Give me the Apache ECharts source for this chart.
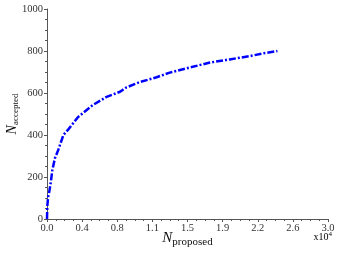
<!DOCTYPE html>
<html><head><meta charset="utf-8">
<script src="https://cdn.jsdelivr.net/npm/echarts@6/dist/echarts.min.js"></script>
<style>html,body{margin:0;padding:0;background:#fff}#c{width:341px;height:256px}</style>
</head><body><div id="c"></div>
<script>
const xProposed = [0, 30, 120, 210, 390, 570, 850, 1210, 1750, 2300, 3300, 4900, 6300, 7800, 8500, 9900, 11700, 13100, 15300, 17400, 19500, 21700, 23100, 24600];
const yAccepted = [0, 60, 105, 122, 170, 233, 290, 330, 400, 428, 485, 543, 580, 606, 627, 652, 675, 697, 722, 745, 760, 776, 789, 800];
const xTickLabels = ['0.0','0.4','0.8','1.1','1.5','1.9','2.2','2.6','3.0'];
const yTicks = [0, 200, 400, 600, 800, 1000];

const F = 'Liberation Serif';
const chart = echarts.init(document.getElementById('c'));
const axisCommon = {
  axisLine: {show: true, lineStyle: {color: '#555', width: 1}},
  axisTick: {show: true, inside: false, length: 3, lineStyle: {color: '#555'}},
  minorTick: {show: true, splitNumber: 4, length: 2, lineStyle: {color: '#555'}},
  splitLine: {show: false},
  axisLabel: {fontFamily: F, fontSize: 10.5, color: '#333', margin: 4},
  nameMoveOverlap: false
};
chart.setOption({
  animation: false,
  grid: {left: 47, right: 13, top: 9, bottom: 37, containLabel: false, outerBoundsMode: 'none'},
  xAxis: Object.assign({}, axisCommon, {
    type: 'value', min: 0, max: 30000, interval: 3750,
    axisLabel: Object.assign({}, axisCommon.axisLabel, {
      formatter: v => xTickLabels[Math.round(v / 3750)]
    }),
    name: '{n|N}{s|proposed}', nameLocation: 'middle', nameGap: 10,
    nameTextStyle: {rich: {
      n: {fontFamily: F, fontStyle: 'italic', fontSize: 15, color: '#111'},
      s: {fontFamily: F, fontSize: 11, color: '#111', padding: [8, 0, 0, 0]}
    }}
  }),
  yAxis: Object.assign({}, axisCommon, {
    type: 'value', min: 0, max: 1000, interval: 200,
    axisLabel: Object.assign({}, axisCommon.axisLabel, {
      formatter: v => yTicks.indexOf(v) >= 0 ? String(v) : ''
    }),
    name: '{n|N}{s|accepted}', nameLocation: 'middle', nameGap: 27,
    nameTextStyle: {rich: {
      n: {fontFamily: F, fontStyle: 'italic', fontSize: 14, color: '#111'},
      s: {fontFamily: F, fontSize: 9, color: '#111', padding: [6, 0, 0, 0]}
    }}
  }),
  graphic: [{
    type: 'text', right: 9, top: 231,
    style: {text: '{a|x10}{b|4}', rich: {
      a: {fontFamily: F, fontSize: 10, color: '#333'},
      b: {fontFamily: F, fontSize: 7, color: '#333', padding: [0, 0, 6, 0]}
    }}
  }],
  series: [{
    type: 'line',
    data: xProposed.map((x, i) => [x, yAccepted[i]]),
    showSymbol: false,
    lineStyle: {color: '#0000ff', width: 2.5, type: [7, 2, 2, 2]}
  }]
});
</script></body></html>
